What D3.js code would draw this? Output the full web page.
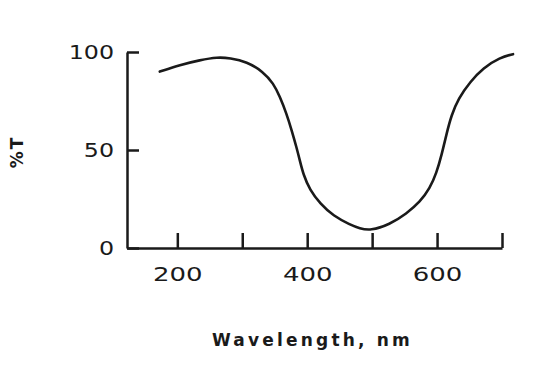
<!DOCTYPE html>
<html>
<head>
<meta charset="utf-8">
<script src="https://cdn.jsdelivr.net/npm/d3@7"></script>
<style>
  html, body { margin: 0; padding: 0; background: #fff; }
  svg { display: block; }
</style>
</head>
<body>
<svg id="chart" width="540" height="367"></svg>
<script>
// Data
const wavelength = [173, 204, 235, 262, 281, 307, 332, 348, 358, 368, 376, 384, 389, 394, 404, 420, 440, 466, 481, 497, 527, 553, 574, 589, 599, 607, 615, 622, 633, 651, 671, 697, 717];
const transmittance = [90, 93.4, 95.9, 97.4, 96.9, 95.1, 90.0, 84.0, 77.2, 68.7, 60.2, 50.8, 44.2, 37.6, 29.6, 22.6, 16.4, 11.9, 10.0, 8.8, 12.0, 17.5, 23.6, 30.5, 38.2, 47.4, 58.8, 67.6, 76.4, 84.8, 91.9, 97.2, 98.9];
const xTicks = [200, 300, 400, 500, 600, 700];
const xTickLabels = ["200", "", "400", "", "600", ""];
const yTicks = [0, 50, 100];
const xTitle = "Wavelength, nm";
const yTitle = "%T";

const ink = "#1a1a1a";
const svg = d3.select("#chart");

const x = d3.scaleLinear().domain([122.5, 700]).range([127, 502]);
const y = d3.scaleLinear().domain([0, 100]).range([248, 52]);

// X axis
const gx = svg.append("g").attr("transform", `translate(0,${y(0)})`)
  .call(d3.axisBottom(x).tickValues(xTicks)
    .tickFormat((d, i) => xTickLabels[i])
    .tickSize(-15).tickSizeOuter(0).tickPadding(19));
gx.select(".domain").attr("stroke", ink).attr("stroke-width", 2.5);
gx.selectAll(".tick line").attr("stroke", ink).attr("stroke-width", 2.5);
gx.selectAll(".tick text")
  .attr("fill", ink)
  .attr("font-family", "DejaVu Sans")
  .attr("font-size", 20)
  .attr("x", null)
  .attr("transform", "scale(1.3,1)");

// Y axis
const gy = svg.append("g").attr("transform", `translate(${x.range()[0]},0)`)
  .call(d3.axisLeft(y).tickValues(yTicks)
    .tickSize(-12).tickSizeOuter(0).tickPadding(0));
gy.select(".domain").attr("stroke", ink).attr("stroke-width", 2.5);
gy.selectAll(".tick line").attr("stroke", ink).attr("stroke-width", 2.5);
gy.selectAll(".tick text")
  .attr("fill", ink)
  .attr("font-family", "DejaVu Sans")
  .attr("font-size", 19)
  .attr("x", 0)
  .attr("dy", "0.36em")
  .attr("transform", "translate(-13,0) scale(1.25,1)");

// Curve
const line = d3.line()
  .x((d, i) => x(wavelength[i]))
  .y((d, i) => y(transmittance[i]))
  .curve(d3.curveBasis);
svg.append("path")
  .datum(wavelength)
  .attr("d", line)
  .attr("fill", "none")
  .attr("stroke", ink)
  .attr("stroke-width", 2.6)
  .attr("stroke-linecap", "round");

// Titles
svg.append("text")
  .attr("x", 312.5).attr("y", 345.5)
  .attr("text-anchor", "middle")
  .attr("font-family", "DejaVu Sans")
  .attr("font-weight", "bold")
  .attr("font-size", 17)
  .attr("letter-spacing", 3.2)
  .attr("fill", ink)
  .text(xTitle);

svg.append("text")
  .attr("transform", "translate(23,152) rotate(-90)")
  .attr("text-anchor", "middle")
  .attr("font-family", "DejaVu Sans")
  .attr("font-weight", "bold")
  .attr("font-size", 17)
  .attr("letter-spacing", 2)
  .attr("fill", ink)
  .text(yTitle);
</script>
</body>
</html>
